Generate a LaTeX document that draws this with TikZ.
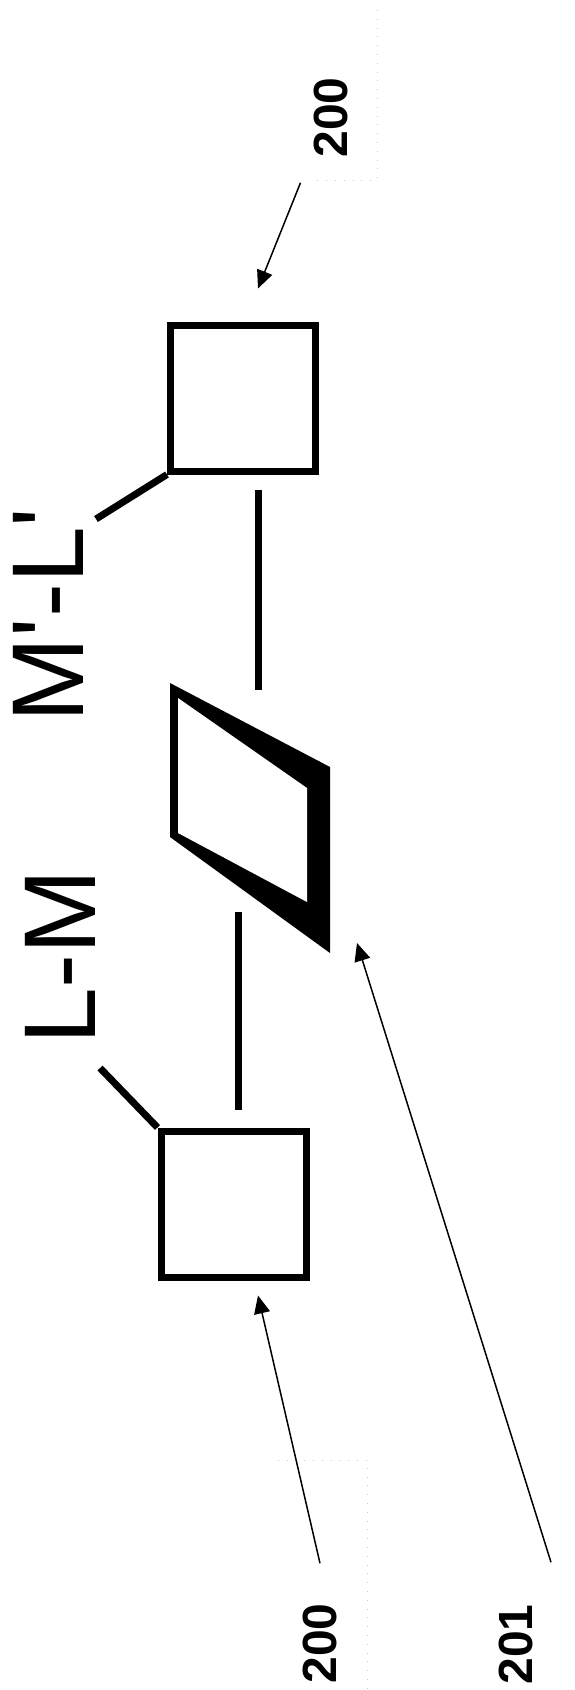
\documentclass[tikz,border=0pt]{standalone}
\usepackage{fontspec}
\setmainfont{Liberation Sans}
\newfontfamily\letterfont{Liberation Sans}
\usetikzlibrary{arrows.meta,calc}
\tikzset{
  cell/.style={draw,line width=7pt,minimum width=145pt,minimum height=146pt,inner sep=0pt},
  lead/.style={line width=7pt},
  pointer/.style={line width=1.5pt,-{Triangle[length=18pt,width=16pt]}},
  tag/.style={rotate=90,inner sep=0pt,font=\bfseries\fontsize{48}{50}\selectfont},
  formula/.style={rotate=90,inner sep=0pt,font=\letterfont\fontsize{102}{110}\selectfont},
  frame/.style={gray!45,line width=0.8pt,dash pattern=on 0.8pt off 8pt}
}

\begin{document}
\begin{tikzpicture}[x=1pt,y=-1pt]
  \useasboundingbox (0,0) rectangle (575,1690);
  % the two cells
  \node[cell] (boxtop) at (243,398) {};
  \node[cell] (boxbot) at (233.5,1204) {};
  % plate between them
  \coordinate (p1) at (170,683);
  \coordinate (p2) at (330,767);
  \coordinate (p3) at (330,953);
  \coordinate (p4) at (170,837);
  \coordinate (q1) at (178,698);
  \coordinate (q2) at (307,788);
  \coordinate (q3) at (307,902);
  \coordinate (q4) at (178,833);
  \fill (p1) -- (p2) -- (p3) -- (p4) -- cycle;
  \fill[white] (q1) -- (q2) -- (q3) -- (q4) -- cycle;
  % labels
  \node[formula] (mltop) at (48.5,615) {M'-L'};
  \node[formula] (lmbot) at (60,957) {L-M};
  \node[tag] (tagtop) at (330.5,117.5) {200};
  \node[tag] (tagbot) at (320,1643.5) {200};
  \node[tag] (tagplate) at (515.5,1644.5) {201};
  \draw[frame] (377,10) -- (377,180) -- (310,180);
  \draw[frame] (278,1460) -- (367,1460) -- (367,1690);
  % links
  \draw[lead] ([shift={(15,15)}]boxtop.south) -- ++(0,200);
  \draw[lead] ([shift={(4.5,-18)}]boxbot.north) -- ++(0,-198);
  \coordinate (ktop) at (96,519);
  \coordinate (kbot) at (100,1068);
  \draw[lead] (boxtop.south west) -- (ktop);
  \draw[lead] (boxbot.north west) -- (kbot);
  % reference arrows
  \draw[pointer] ([xshift=-30pt,yshift=-25pt]tagtop.west) -- ([xshift=15pt,yshift=33pt]boxtop.north);
  \draw[pointer] ([yshift=40pt]tagbot.east) -- ([xshift=24.5pt,yshift=-15pt]boxbot.south);
  \draw[pointer] ([xshift=35.5pt,yshift=42pt]tagplate.east) -- ([xshift=27pt,yshift=10pt]p3);
\end{tikzpicture}
\end{document}
